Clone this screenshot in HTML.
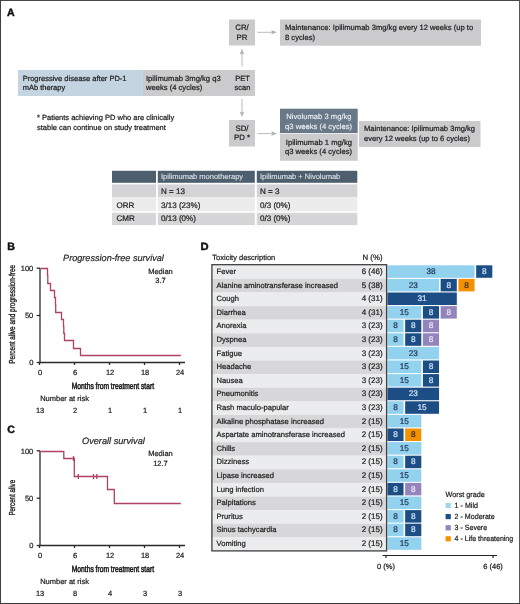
<!DOCTYPE html>
<html><head><meta charset="utf-8">
<style>
html,body{margin:0;padding:0;background:#fff;}
body{width:520px;height:604px;overflow:hidden;}
svg{display:block;will-change:transform;}
text{font-family:"Liberation Sans",sans-serif;stroke-width:0.22px;text-rendering:geometricPrecision;}
</style></head><body>
<svg width="520" height="604" viewBox="0 0 520 604">
<rect stroke="none" x="0" y="0" width="520" height="604" fill="#fff"/>
<rect stroke="none" x="0" y="0" width="520" height="1" fill="#474747"/>
<rect stroke="none" x="0" y="0" width="1" height="604" fill="#404040"/>
<rect stroke="none" x="519" y="0" width="1" height="604" fill="#585858"/>
<rect stroke="none" x="0" y="603" width="520" height="1" fill="#383838"/>

<!-- ===== Panel A ===== -->
<text x="7.1" y="15.8" font-size="10.6" font-weight="bold" fill="#111" stroke="#111" style="stroke-width:0.45px">A</text>
<g font-size="7.5" fill="#222" stroke="#222">
  <!-- CR/PR -->
  <rect stroke="none" x="229" y="19.5" width="26" height="26" fill="#cbcbcd"/>
  <text x="242" y="30.2" text-anchor="middle" font-size="7.8">CR/</text>
  <text x="242" y="39.8" text-anchor="middle" font-size="7.8">PR</text>
  <!-- maintenance 1 -->
  <rect stroke="none" x="280" y="19.5" width="201" height="26.2" fill="#cbcbcd"/>
  <text x="285" y="30" font-size="7.62">Maintenance: Ipilimumab 3mg/kg every 12 weeks (up to</text>
  <text x="285" y="39.6" font-size="7.62">8 cycles)</text>
  <!-- blue box -->
  <rect stroke="none" x="18" y="70" width="125" height="26" fill="#c4d4e0"/>
  <text x="22.7" y="80.7">Progressive disease after PD-1</text>
  <text x="22.7" y="89.9">mAb therapy</text>
  <!-- gray box -->
  <rect stroke="none" x="143" y="70" width="112" height="26" fill="#cbcbcd"/>
  <text x="146" y="80.5" font-size="7.65">Ipilimumab 3mg/kg q3</text>
  <text x="146" y="89.9" font-size="7.62">weeks (4 cycles)</text>
  <text x="242.5" y="80.7" text-anchor="middle">PET</text>
  <text x="242.5" y="89.9" text-anchor="middle">scan</text>
  <!-- SD/PD -->
  <rect stroke="none" x="229" y="120" width="26" height="26.5" fill="#cbcbcd"/>
  <text x="242" y="130.9" text-anchor="middle" font-size="7.8">SD/</text>
  <text x="242" y="140.4" text-anchor="middle" font-size="7.8">PD *</text>
  <!-- Nivolumab -->
  <rect stroke="none" x="280" y="108.7" width="77.7" height="24.3" fill="#687889"/>
  <text x="318.9" y="119.2" font-size="7.65" text-anchor="middle" fill="#eef1f4" stroke="#eef1f4" style="stroke-width:0.12px">Nivolumab 3 mg/kg</text>
  <text x="318.6" y="128.5" font-size="7.65" text-anchor="middle" fill="#eef1f4" stroke="#eef1f4" style="stroke-width:0.12px">q3 weeks (4 cycles)</text>
  <rect stroke="none" x="280" y="133.6" width="77.7" height="27.2" fill="#cbcbcd"/>
  <text x="318.9" y="145" font-size="7.65" text-anchor="middle">Ipilimumab 1 mg/kg</text>
  <text x="318.5" y="154.4" font-size="7.65" text-anchor="middle">q3 weeks (4 cycles)</text>
  <!-- maintenance 2 -->
  <rect stroke="none" x="359" y="121" width="121.5" height="26" fill="#cbcbcd"/>
  <text x="364" y="131.4" font-size="7.57">Maintenance: Ipilimumab 3mg/kg</text>
  <text x="364" y="141" font-size="7.57">every 12 weeks (up to 6 cycles)</text>
  <!-- footnote -->
  <text x="37" y="120.1">* Patients achieving PD who are clinically</text>
  <text x="37" y="129.7">stable can continue on study treatment</text>
</g>
<!-- arrows -->
<g stroke="#b2b2b4" stroke-width="0.9" fill="none">
  <line x1="257.5" y1="32.3" x2="272.5" y2="32.3"/>
  <line x1="242" y1="66.5" x2="242" y2="53"/>
  <line x1="242" y1="99" x2="242" y2="113"/>
  <line x1="257.5" y1="133.6" x2="272.5" y2="133.6"/>
</g>
<g fill="#b2b2b4" stroke="none">
  <path d="M276.8,32.3 L271.2,30 L272.2,32.3 L271.2,34.6 Z"/>
  <path d="M242,48.8 L239.7,54.4 L242,53.4 L244.3,54.4 Z"/>
  <path d="M242,117 L239.7,111.6 L242,112.6 L244.3,111.6 Z"/>
  <path d="M276.8,133.6 L271.2,131.3 L272.2,133.6 L271.2,135.9 Z"/>
</g>
<!-- table -->
<g font-size="7.5">
  <rect stroke="none" x="112" y="170.8" width="44" height="12" fill="#4d5e6f"/>
  <rect stroke="none" x="157.8" y="170.8" width="97" height="12" fill="#4d5e6f"/>
  <rect stroke="none" x="256.8" y="170.8" width="100.5" height="12" fill="#4d5e6f"/>
  <rect stroke="none" x="112" y="184.4" width="44" height="13" fill="#d4d4d6"/>
  <rect stroke="none" x="157.8" y="184.4" width="97" height="13" fill="#d4d4d6"/>
  <rect stroke="none" x="256.8" y="184.4" width="100.5" height="13" fill="#d4d4d6"/>
  <rect stroke="none" x="112" y="197.3" width="44" height="14" fill="#ececed"/>
  <rect stroke="none" x="157.8" y="197.3" width="97" height="14" fill="#ececed"/>
  <rect stroke="none" x="256.8" y="197.3" width="100.5" height="14" fill="#ececed"/>
  <rect stroke="none" x="112" y="212.8" width="44" height="12.3" fill="#d6d6d8"/>
  <rect stroke="none" x="157.8" y="212.8" width="97" height="12.3" fill="#d6d6d8"/>
  <rect stroke="none" x="256.8" y="212.8" width="100.5" height="12.3" fill="#d6d6d8"/>
  <text x="161" y="179.4" fill="#e2e6ea" stroke="#e2e6ea" style="stroke-width:0.08px">Ipilimumab monotherapy</text>
  <text x="260" y="179.4" fill="#e2e6ea" stroke="#e2e6ea" style="stroke-width:0.08px">Ipilimumab + Nivolumab</text>
  <g fill="#222" stroke="#222" font-size="8.05">
  <text x="161" y="193.7">N = 13</text>
  <text x="260" y="193.6">N = 3</text>
  <text x="116.4" y="207.7">ORR</text>
  <text x="161" y="207.7">3/13 (23%)</text>
  <text x="260" y="207.7">0/3 (0%)</text>
  <text x="116.4" y="220.9">CMR</text>
  <text x="161" y="220.9">0/13 (0%)</text>
  <text x="260" y="220.9">0/3 (0%)</text>
  </g>
</g>

<!-- ===== Panel B ===== -->
<text x="7.2" y="249.8" font-size="10.6" font-weight="bold" fill="#111" stroke="#111" style="stroke-width:0.45px">B</text>
<text x="63.1" y="260.8" font-size="9.12" font-style="italic" fill="#2a2a2a" stroke="#2a2a2a">Progression-free survival</text>
<g font-size="7.5" fill="#222" stroke="#222">
  <text x="160.5" y="274" text-anchor="middle">Median</text>
  <text x="160.5" y="283" text-anchor="middle">3.7</text>
  <text x="33.3" y="271" text-anchor="end">100</text>
  <text x="33.3" y="318.3" text-anchor="end">50</text>
  <text x="33.3" y="365.2" text-anchor="end">0</text>
  <g text-anchor="middle">
    <text x="40.05" y="375.3">0</text><text x="75.05" y="375.3">6</text><text x="110.05" y="375.3">12</text><text x="145.05" y="375.3">18</text><text x="180.05" y="375.3">24</text>
    <text x="40.05" y="413.1">13</text><text x="75.05" y="413.1">2</text><text x="110.05" y="413.1">1</text><text x="145.05" y="413.1">1</text><text x="180.05" y="413.1">1</text>
  </g>
  <text x="40.2" y="401.1">Number at risk</text>
  <text x="71.8" y="388.8" textLength="82.2" lengthAdjust="spacingAndGlyphs" font-size="9" style="stroke-width:0.55px">Months from treatment start</text>
  <text transform="translate(14.9,314.3) rotate(-90)" text-anchor="middle" textLength="98.8" lengthAdjust="spacingAndGlyphs" font-size="8.7" style="stroke-width:0.35px">Percent alive and progression-free</text>
</g>
<g stroke="#2a2a2a" stroke-width="1.3" fill="none">
  <line x1="40" y1="268" x2="40" y2="362.5"/>
  <line x1="39.4" y1="362.5" x2="185" y2="362.5"/>
  <line x1="36.7" y1="268.2" x2="40" y2="268.2"/><line x1="36.7" y1="315.5" x2="40" y2="315.5"/><line x1="36.7" y1="362.5" x2="40" y2="362.5"/>
  <line x1="39.5" y1="362.5" x2="39.5" y2="365"/><line x1="74.5" y1="362.5" x2="74.5" y2="365"/><line x1="109.5" y1="362.5" x2="109.5" y2="365"/><line x1="144.5" y1="362.5" x2="144.5" y2="365"/><line x1="179.5" y1="362.5" x2="179.5" y2="365"/>
</g>
<polyline fill="none" stroke="#ad4262" stroke-width="1.3" points="40.5,268.5 47.5,268.5 47.5,275.5 47.8,275.5 47.8,283.5 50.5,283.5 50.5,290.5 54.5,290.5 54.5,297.5 55.5,297.5 55.5,304.5 55.7,304.5 55.7,312.5 61.5,312.5 61.5,319.5 63.5,319.5 63.5,326.5 63.8,326.5 63.8,333.5 64.5,333.5 64.5,340.5 73.5,340.5 73.5,348.5 80.5,348.5 80.5,355.5 180.8,355.5"/>

<!-- ===== Panel C ===== -->
<text x="7.2" y="432.5" font-size="10.6" font-weight="bold" fill="#111" stroke="#111" style="stroke-width:0.45px">C</text>
<text x="82" y="443.7" font-size="9.2" font-style="italic" fill="#2a2a2a" stroke="#2a2a2a">Overall survival</text>
<g font-size="7.5" fill="#222" stroke="#222">
  <text x="160.5" y="455.6" text-anchor="middle">Median</text>
  <text x="160.5" y="466.4" text-anchor="middle">12.7</text>
  <text x="33.3" y="453.5" text-anchor="end">100</text>
  <text x="33.3" y="500.9" text-anchor="end">50</text>
  <text x="33.3" y="548.2" text-anchor="end">0</text>
  <g text-anchor="middle">
    <text x="40.05" y="558.3">0</text><text x="75.05" y="558.3">6</text><text x="110.05" y="558.3">12</text><text x="145.05" y="558.3">18</text><text x="180.05" y="558.3">24</text>
    <text x="40.05" y="596.0">13</text><text x="75.05" y="596.0">8</text><text x="110.05" y="596.0">4</text><text x="145.05" y="596.0">3</text><text x="180.05" y="596.0">3</text>
  </g>
  <text x="40.2" y="583.6">Number at risk</text>
  <text x="71.8" y="571.6" textLength="82.2" lengthAdjust="spacingAndGlyphs" font-size="9" style="stroke-width:0.55px">Months from treatment start</text>
  <text transform="translate(14.9,497.7) rotate(-90)" text-anchor="middle" textLength="35.7" lengthAdjust="spacingAndGlyphs" font-size="8.7" style="stroke-width:0.35px">Percent alive</text>
</g>
<g stroke="#2a2a2a" stroke-width="1.3" fill="none">
  <line x1="40" y1="450.8" x2="40" y2="545.5"/>
  <line x1="39.4" y1="545.5" x2="185" y2="545.5"/>
  <line x1="36.7" y1="450.8" x2="40" y2="450.8"/><line x1="36.7" y1="498.2" x2="40" y2="498.2"/><line x1="36.7" y1="545.5" x2="40" y2="545.5"/>
  <line x1="39.5" y1="545.5" x2="39.5" y2="548"/><line x1="74.5" y1="545.5" x2="74.5" y2="548"/><line x1="109.5" y1="545.5" x2="109.5" y2="548"/><line x1="144.5" y1="545.5" x2="144.5" y2="548"/><line x1="179.5" y1="545.5" x2="179.5" y2="548"/>
</g>
<g fill="none" stroke="#ad4262" stroke-width="1.3">
<polyline points="40.5,451.5 63.8,451.5 63.8,458.5 74.3,458.5 74.3,476.5 107.5,476.5 107.5,489.5 114.3,489.5 114.3,503.5 180.8,503.5"/>
<line x1="73.5" y1="456" x2="73.5" y2="461"/>
<line x1="78.3" y1="474" x2="78.3" y2="479"/>
<line x1="93.5" y1="474" x2="93.5" y2="479"/>
<line x1="96.8" y1="474" x2="96.8" y2="479"/>
</g>

<!-- ===== Panel D ===== -->
<text x="200.6" y="250" font-size="10.6" font-weight="bold" fill="#111" stroke="#111" style="stroke-width:0.5px" textLength="8.1" lengthAdjust="spacingAndGlyphs">D</text>
<g font-size="7.5" fill="#222" stroke="#222">
  <text x="212.3" y="259.8">Toxicity description</text>
  <text x="382.5" y="260.4" text-anchor="end" font-size="7.8">N (%)</text>
</g>
<g id="rows"><g font-size="7.4">
<rect x="212" y="265.30" width="175" height="13.65" fill="#ebecee"/>
<rect x="212" y="278.90" width="175" height="13.65" fill="#d7d7da"/>
<rect x="212" y="292.50" width="175" height="13.65" fill="#ebecee"/>
<rect x="212" y="306.10" width="175" height="13.65" fill="#d7d7da"/>
<rect x="212" y="319.70" width="175" height="13.65" fill="#ebecee"/>
<rect x="212" y="333.30" width="175" height="13.65" fill="#d7d7da"/>
<rect x="212" y="346.90" width="175" height="13.65" fill="#ebecee"/>
<rect x="212" y="360.50" width="175" height="13.65" fill="#d7d7da"/>
<rect x="212" y="374.10" width="175" height="13.65" fill="#ebecee"/>
<rect x="212" y="387.70" width="175" height="13.65" fill="#d7d7da"/>
<rect x="212" y="401.30" width="175" height="13.65" fill="#ebecee"/>
<rect x="212" y="414.90" width="175" height="13.65" fill="#d7d7da"/>
<rect x="212" y="428.50" width="175" height="13.65" fill="#ebecee"/>
<rect x="212" y="442.10" width="175" height="13.65" fill="#d7d7da"/>
<rect x="212" y="455.70" width="175" height="13.65" fill="#ebecee"/>
<rect x="212" y="469.30" width="175" height="13.65" fill="#d7d7da"/>
<rect x="212" y="482.90" width="175" height="13.65" fill="#ebecee"/>
<rect x="212" y="496.50" width="175" height="13.65" fill="#d7d7da"/>
<rect x="212" y="510.10" width="175" height="13.65" fill="#ebecee"/>
<rect x="212" y="523.70" width="175" height="13.65" fill="#d7d7da"/>
<rect x="212" y="537.30" width="175" height="13.65" fill="#ebecee"/>
<text x="216.5" y="273.90" font-size="7.62" fill="#222" stroke="#222">Fever</text>
<text x="382.6" y="273.90" font-size="8.02" fill="#222" stroke="#222" text-anchor="end">6 (46)</text>
<rect x="387.40" y="265.30" width="87.15" height="12.5" fill="#92d2ef"/>
<text x="430.97" y="274.05" font-size="8.25" fill="#1e3553" stroke="#1e3553" text-anchor="middle">38</text>
<rect x="476.15" y="265.30" width="16.15" height="12.5" fill="#1c4e85"/>
<text x="484.22" y="274.05" font-size="8.25" fill="#cfe6f6" stroke="#cfe6f6" text-anchor="middle">8</text>
<text x="216.5" y="287.50" font-size="7.62" fill="#222" stroke="#222">Alanine aminotransferase increased</text>
<text x="382.6" y="287.50" font-size="8.02" fill="#222" stroke="#222" text-anchor="end">5 (38)</text>
<rect x="387.40" y="278.90" width="51.65" height="12.5" fill="#92d2ef"/>
<text x="413.22" y="287.65" font-size="8.25" fill="#1e3553" stroke="#1e3553" text-anchor="middle">23</text>
<rect x="440.65" y="278.90" width="16.15" height="12.5" fill="#1c4e85"/>
<text x="448.72" y="287.65" font-size="8.25" fill="#cfe6f6" stroke="#cfe6f6" text-anchor="middle">8</text>
<rect x="458.40" y="278.90" width="16.15" height="12.5" fill="#f39200"/>
<text x="466.47" y="287.65" font-size="8.25" fill="#3b2a12" stroke="#3b2a12" text-anchor="middle">8</text>
<text x="216.5" y="301.10" font-size="7.62" fill="#222" stroke="#222">Cough</text>
<text x="382.6" y="301.10" font-size="8.02" fill="#222" stroke="#222" text-anchor="end">4 (31)</text>
<rect x="387.40" y="292.50" width="69.40" height="12.5" fill="#1c4e85"/>
<text x="422.10" y="301.25" font-size="8.25" fill="#cfe6f6" stroke="#cfe6f6" text-anchor="middle">31</text>
<text x="216.5" y="314.70" font-size="7.62" fill="#222" stroke="#222">Diarrhea</text>
<text x="382.6" y="314.70" font-size="8.02" fill="#222" stroke="#222" text-anchor="end">4 (31)</text>
<rect x="387.40" y="306.10" width="33.90" height="12.5" fill="#92d2ef"/>
<text x="404.35" y="314.85" font-size="8.25" fill="#1e3553" stroke="#1e3553" text-anchor="middle">15</text>
<rect x="422.90" y="306.10" width="16.15" height="12.5" fill="#1c4e85"/>
<text x="430.97" y="314.85" font-size="8.25" fill="#cfe6f6" stroke="#cfe6f6" text-anchor="middle">8</text>
<rect x="440.65" y="306.10" width="16.15" height="12.5" fill="#9484be"/>
<text x="448.72" y="314.85" font-size="8.25" fill="#ece8f5" stroke="#ece8f5" text-anchor="middle">8</text>
<text x="216.5" y="328.30" font-size="7.62" fill="#222" stroke="#222">Anorexia</text>
<text x="382.6" y="328.30" font-size="8.02" fill="#222" stroke="#222" text-anchor="end">3 (23)</text>
<rect x="387.40" y="319.70" width="16.15" height="12.5" fill="#92d2ef"/>
<text x="395.47" y="328.45" font-size="8.25" fill="#1e3553" stroke="#1e3553" text-anchor="middle">8</text>
<rect x="405.15" y="319.70" width="16.15" height="12.5" fill="#1c4e85"/>
<text x="413.22" y="328.45" font-size="8.25" fill="#cfe6f6" stroke="#cfe6f6" text-anchor="middle">8</text>
<rect x="422.90" y="319.70" width="16.15" height="12.5" fill="#9484be"/>
<text x="430.97" y="328.45" font-size="8.25" fill="#ece8f5" stroke="#ece8f5" text-anchor="middle">8</text>
<text x="216.5" y="341.90" font-size="7.62" fill="#222" stroke="#222">Dyspnea</text>
<text x="382.6" y="341.90" font-size="8.02" fill="#222" stroke="#222" text-anchor="end">3 (23)</text>
<rect x="387.40" y="333.30" width="16.15" height="12.5" fill="#92d2ef"/>
<text x="395.47" y="342.05" font-size="8.25" fill="#1e3553" stroke="#1e3553" text-anchor="middle">8</text>
<rect x="405.15" y="333.30" width="16.15" height="12.5" fill="#1c4e85"/>
<text x="413.22" y="342.05" font-size="8.25" fill="#cfe6f6" stroke="#cfe6f6" text-anchor="middle">8</text>
<rect x="422.90" y="333.30" width="16.15" height="12.5" fill="#9484be"/>
<text x="430.97" y="342.05" font-size="8.25" fill="#ece8f5" stroke="#ece8f5" text-anchor="middle">8</text>
<text x="216.5" y="355.50" font-size="7.62" fill="#222" stroke="#222">Fatigue</text>
<text x="382.6" y="355.50" font-size="8.02" fill="#222" stroke="#222" text-anchor="end">3 (23)</text>
<rect x="387.40" y="346.90" width="51.65" height="12.5" fill="#92d2ef"/>
<text x="413.22" y="355.65" font-size="8.25" fill="#1e3553" stroke="#1e3553" text-anchor="middle">23</text>
<text x="216.5" y="369.10" font-size="7.62" fill="#222" stroke="#222">Headache</text>
<text x="382.6" y="369.10" font-size="8.02" fill="#222" stroke="#222" text-anchor="end">3 (23)</text>
<rect x="387.40" y="360.50" width="33.90" height="12.5" fill="#92d2ef"/>
<text x="404.35" y="369.25" font-size="8.25" fill="#1e3553" stroke="#1e3553" text-anchor="middle">15</text>
<rect x="422.90" y="360.50" width="16.15" height="12.5" fill="#1c4e85"/>
<text x="430.97" y="369.25" font-size="8.25" fill="#cfe6f6" stroke="#cfe6f6" text-anchor="middle">8</text>
<text x="216.5" y="382.70" font-size="7.62" fill="#222" stroke="#222">Nausea</text>
<text x="382.6" y="382.70" font-size="8.02" fill="#222" stroke="#222" text-anchor="end">3 (23)</text>
<rect x="387.40" y="374.10" width="33.90" height="12.5" fill="#92d2ef"/>
<text x="404.35" y="382.85" font-size="8.25" fill="#1e3553" stroke="#1e3553" text-anchor="middle">15</text>
<rect x="422.90" y="374.10" width="16.15" height="12.5" fill="#1c4e85"/>
<text x="430.97" y="382.85" font-size="8.25" fill="#cfe6f6" stroke="#cfe6f6" text-anchor="middle">8</text>
<text x="216.5" y="396.30" font-size="7.62" fill="#222" stroke="#222">Pneumonitis</text>
<text x="382.6" y="396.30" font-size="8.02" fill="#222" stroke="#222" text-anchor="end">3 (23)</text>
<rect x="387.40" y="387.70" width="51.65" height="12.5" fill="#1c4e85"/>
<text x="413.22" y="396.45" font-size="8.25" fill="#cfe6f6" stroke="#cfe6f6" text-anchor="middle">23</text>
<text x="216.5" y="409.90" font-size="7.62" fill="#222" stroke="#222">Rash maculo-papular</text>
<text x="382.6" y="409.90" font-size="8.02" fill="#222" stroke="#222" text-anchor="end">3 (23)</text>
<rect x="387.40" y="401.30" width="16.15" height="12.5" fill="#92d2ef"/>
<text x="395.47" y="410.05" font-size="8.25" fill="#1e3553" stroke="#1e3553" text-anchor="middle">8</text>
<rect x="405.15" y="401.30" width="33.90" height="12.5" fill="#1c4e85"/>
<text x="422.10" y="410.05" font-size="8.25" fill="#cfe6f6" stroke="#cfe6f6" text-anchor="middle">15</text>
<text x="216.5" y="423.50" font-size="7.62" fill="#222" stroke="#222">Alkaline phosphatase increased</text>
<text x="382.6" y="423.50" font-size="8.02" fill="#222" stroke="#222" text-anchor="end">2 (15)</text>
<rect x="387.40" y="414.90" width="33.90" height="12.5" fill="#92d2ef"/>
<text x="404.35" y="423.65" font-size="8.25" fill="#1e3553" stroke="#1e3553" text-anchor="middle">15</text>
<text x="216.5" y="437.10" font-size="7.62" fill="#222" stroke="#222">Aspartate aminotransferase increased</text>
<text x="382.6" y="437.10" font-size="8.02" fill="#222" stroke="#222" text-anchor="end">2 (15)</text>
<rect x="387.40" y="428.50" width="16.15" height="12.5" fill="#1c4e85"/>
<text x="395.47" y="437.25" font-size="8.25" fill="#cfe6f6" stroke="#cfe6f6" text-anchor="middle">8</text>
<rect x="405.15" y="428.50" width="16.15" height="12.5" fill="#f39200"/>
<text x="413.22" y="437.25" font-size="8.25" fill="#3b2a12" stroke="#3b2a12" text-anchor="middle">8</text>
<text x="216.5" y="450.70" font-size="7.62" fill="#222" stroke="#222">Chills</text>
<text x="382.6" y="450.70" font-size="8.02" fill="#222" stroke="#222" text-anchor="end">2 (15)</text>
<rect x="387.40" y="442.10" width="33.90" height="12.5" fill="#92d2ef"/>
<text x="404.35" y="450.85" font-size="8.25" fill="#1e3553" stroke="#1e3553" text-anchor="middle">15</text>
<text x="216.5" y="464.30" font-size="7.62" fill="#222" stroke="#222">Dizziness</text>
<text x="382.6" y="464.30" font-size="8.02" fill="#222" stroke="#222" text-anchor="end">2 (15)</text>
<rect x="387.40" y="455.70" width="16.15" height="12.5" fill="#92d2ef"/>
<text x="395.47" y="464.45" font-size="8.25" fill="#1e3553" stroke="#1e3553" text-anchor="middle">8</text>
<rect x="405.15" y="455.70" width="16.15" height="12.5" fill="#1c4e85"/>
<text x="413.22" y="464.45" font-size="8.25" fill="#cfe6f6" stroke="#cfe6f6" text-anchor="middle">8</text>
<text x="216.5" y="477.90" font-size="7.62" fill="#222" stroke="#222">Lipase increased</text>
<text x="382.6" y="477.90" font-size="8.02" fill="#222" stroke="#222" text-anchor="end">2 (15)</text>
<rect x="387.40" y="469.30" width="33.90" height="12.5" fill="#92d2ef"/>
<text x="404.35" y="478.05" font-size="8.25" fill="#1e3553" stroke="#1e3553" text-anchor="middle">15</text>
<text x="216.5" y="491.50" font-size="7.62" fill="#222" stroke="#222">Lung infection</text>
<text x="382.6" y="491.50" font-size="8.02" fill="#222" stroke="#222" text-anchor="end">2 (15)</text>
<rect x="387.40" y="482.90" width="16.15" height="12.5" fill="#1c4e85"/>
<text x="395.47" y="491.65" font-size="8.25" fill="#cfe6f6" stroke="#cfe6f6" text-anchor="middle">8</text>
<rect x="405.15" y="482.90" width="16.15" height="12.5" fill="#9484be"/>
<text x="413.22" y="491.65" font-size="8.25" fill="#ece8f5" stroke="#ece8f5" text-anchor="middle">8</text>
<text x="216.5" y="505.10" font-size="7.62" fill="#222" stroke="#222">Palpitations</text>
<text x="382.6" y="505.10" font-size="8.02" fill="#222" stroke="#222" text-anchor="end">2 (15)</text>
<rect x="387.40" y="496.50" width="33.90" height="12.5" fill="#92d2ef"/>
<text x="404.35" y="505.25" font-size="8.25" fill="#1e3553" stroke="#1e3553" text-anchor="middle">15</text>
<text x="216.5" y="518.70" font-size="7.62" fill="#222" stroke="#222">Pruritus</text>
<text x="382.6" y="518.70" font-size="8.02" fill="#222" stroke="#222" text-anchor="end">2 (15)</text>
<rect x="387.40" y="510.10" width="16.15" height="12.5" fill="#92d2ef"/>
<text x="395.47" y="518.85" font-size="8.25" fill="#1e3553" stroke="#1e3553" text-anchor="middle">8</text>
<rect x="405.15" y="510.10" width="16.15" height="12.5" fill="#1c4e85"/>
<text x="413.22" y="518.85" font-size="8.25" fill="#cfe6f6" stroke="#cfe6f6" text-anchor="middle">8</text>
<text x="216.5" y="532.30" font-size="7.62" fill="#222" stroke="#222">Sinus tachycardia</text>
<text x="382.6" y="532.30" font-size="8.02" fill="#222" stroke="#222" text-anchor="end">2 (15)</text>
<rect x="387.40" y="523.70" width="16.15" height="12.5" fill="#92d2ef"/>
<text x="395.47" y="532.45" font-size="8.25" fill="#1e3553" stroke="#1e3553" text-anchor="middle">8</text>
<rect x="405.15" y="523.70" width="16.15" height="12.5" fill="#1c4e85"/>
<text x="413.22" y="532.45" font-size="8.25" fill="#cfe6f6" stroke="#cfe6f6" text-anchor="middle">8</text>
<text x="216.5" y="545.90" font-size="7.62" fill="#222" stroke="#222">Vomiting</text>
<text x="382.6" y="545.90" font-size="8.02" fill="#222" stroke="#222" text-anchor="end">2 (15)</text>
<rect x="387.40" y="537.30" width="33.90" height="12.5" fill="#92d2ef"/>
<text x="404.35" y="546.05" font-size="8.25" fill="#1e3553" stroke="#1e3553" text-anchor="middle">15</text>
</g></g><!--endrows-->
<rect x="211.9" y="264.7" width="174.7" height="286.2" fill="none" stroke="#3f3f3f" stroke-width="1.3"/>
<!-- axis -->
<g stroke="#222" stroke-width="1.2">
  <line x1="382.5" y1="555.5" x2="497" y2="555.5"/>
  <line x1="386" y1="555.5" x2="386" y2="558"/>
  <line x1="493" y1="555.5" x2="493" y2="558"/>
</g>
<g font-size="7.5" fill="#222" stroke="#222">
  <text x="386" y="568.5" text-anchor="middle">0 (%)</text>
  <text x="493" y="568.5" text-anchor="middle">6 (46)</text>
  <text x="445.6" y="497" textLength="39.2" lengthAdjust="spacingAndGlyphs">Worst grade</text>
  <text x="454.6" y="508" textLength="23.4" lengthAdjust="spacingAndGlyphs">1 - Mild</text>
  <text x="454.6" y="519.1" textLength="40.2" lengthAdjust="spacingAndGlyphs">2 - Moderate</text>
  <text x="454.6" y="530.3" textLength="32.5" lengthAdjust="spacingAndGlyphs">3 - Severe</text>
  <text x="454.6" y="541.3" textLength="58.6" lengthAdjust="spacingAndGlyphs">4 - Life threatening</text>
</g>
<rect stroke="none" x="445.6" y="502.9" width="5.2" height="5.2" fill="#9fd6e8"/>
<rect stroke="none" x="445.6" y="514" width="5.2" height="5.2" fill="#1c4e85"/>
<rect stroke="none" x="445.6" y="525.2" width="5.2" height="5.2" fill="#8e83bd"/>
<rect stroke="none" x="445.6" y="536.2" width="5.2" height="5.2" fill="#f39200"/>
</svg>
</body></html>
